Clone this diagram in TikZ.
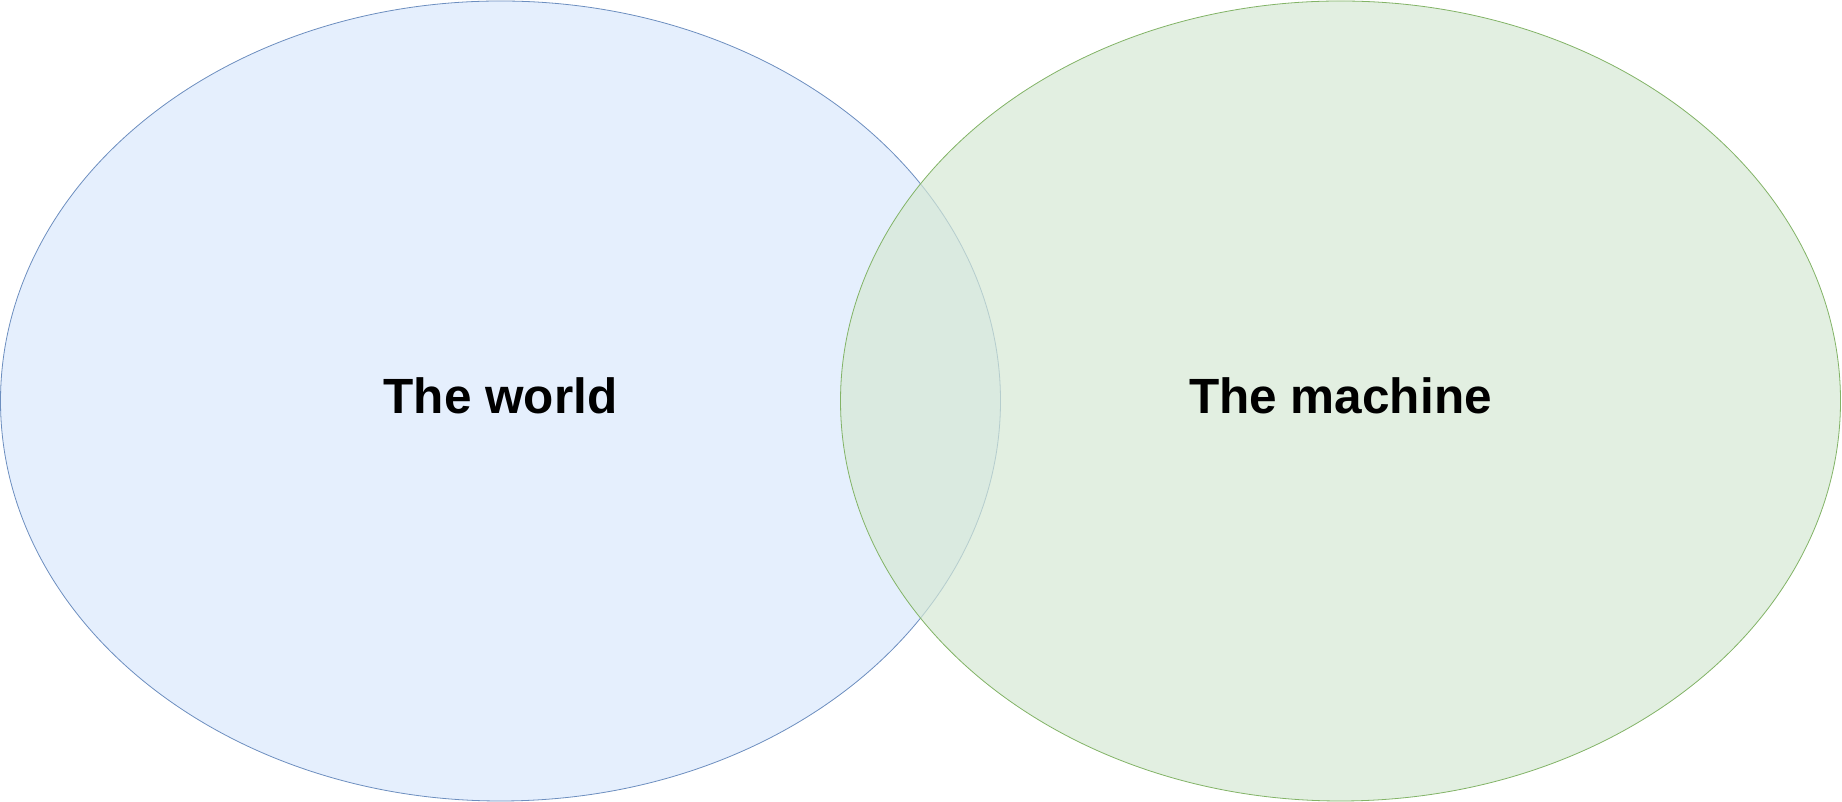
\documentclass[tikz,border=0pt]{standalone}
\usepackage{fontspec}
\setmainfont{Liberation Sans}
\usetikzlibrary{shapes.geometric}
\definecolor{worldfill}{HTML}{DAE8FC}
\definecolor{worlddraw}{HTML}{6C8EBF}
\definecolor{machinefill}{HTML}{D5E8D4}
\definecolor{machinedraw}{HTML}{82B366}

\begin{document}
\begin{tikzpicture}[
  x=1pt, y=1pt,
  blob/.style={ellipse, minimum width=1000pt, minimum height=800pt, inner sep=0pt, outer sep=0pt, line width=0.8pt, fill opacity=0.7, text opacity=1, text height=36pt, text depth=10pt, font=\fontsize{49.5}{58}\selectfont\bfseries}
]
  \useasboundingbox (0,0) rectangle (1842,802);
  \node[blob, draw=worlddraw, fill=worldfill] (world) at (500.5,401) {The world};
  \node[blob, draw=machinedraw, fill=machinefill] (machine) at (1340.5,401) {The machine};
\end{tikzpicture}
\end{document}
